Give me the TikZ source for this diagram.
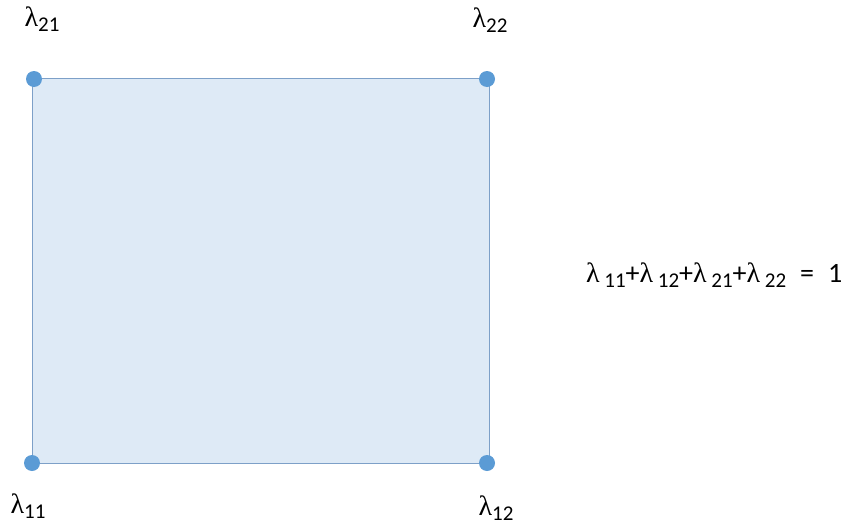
\documentclass[tikz,border=0pt]{standalone}
\usepackage{fontspec}
\setmainfont{Carlito}
\newfontfamily\mathlike{Liberation Serif}
\newcommand{\lsb}[1]{\raisebox{-0.35ex}{\fontsize{21}{22}\selectfont #1}}
\newcommand{\lam}{{\mathlike λ}}
\begin{document}
\begin{tikzpicture}[x=1pt,y=-1pt,
  dot/.style={circle,fill=dotblue,inner sep=0pt,minimum size=16pt},
  lab/.style={font=\fontsize{28}{30}\selectfont,inner sep=0pt},
]
\definecolor{dotblue}{RGB}{91,155,213}
\definecolor{boxfill}{RGB}{222,234,246}
\definecolor{boxline}{RGB}{125,160,200}
\useasboundingbox (0,0) rectangle (855,525);
\coordinate (c11) at (32,463);
\coordinate (c22) at (489,78);
\draw[fill=boxfill,draw=boxline,line width=1pt] (c11) rectangle (c22);
\node[dot] (d21) at (34,79) {};
\node[dot] (d22) at (487,79) {};
\node[dot] (d11) at (32,463) {};
\node[dot] (d12) at (487,463) {};
\node[lab] (l21) at (42,19) {\lam\lsb{21}};
\node[lab] (l22) at (490,20) {\lam\lsb{22}};
\node[lab] (l11) at (28,506) {\lam\lsb{11}};
\node[lab] (l12) at (496,508) {\lam\lsb{12}};
\node[lab,anchor=west] (eq) at (586,275) {\lam\,\lsb{11}+\lam\,\lsb{12}+\lam\,\lsb{21}+\lam\,\lsb{22}\hspace{0.5em}=\hspace{0.5em}1};
\end{tikzpicture}
\end{document}
